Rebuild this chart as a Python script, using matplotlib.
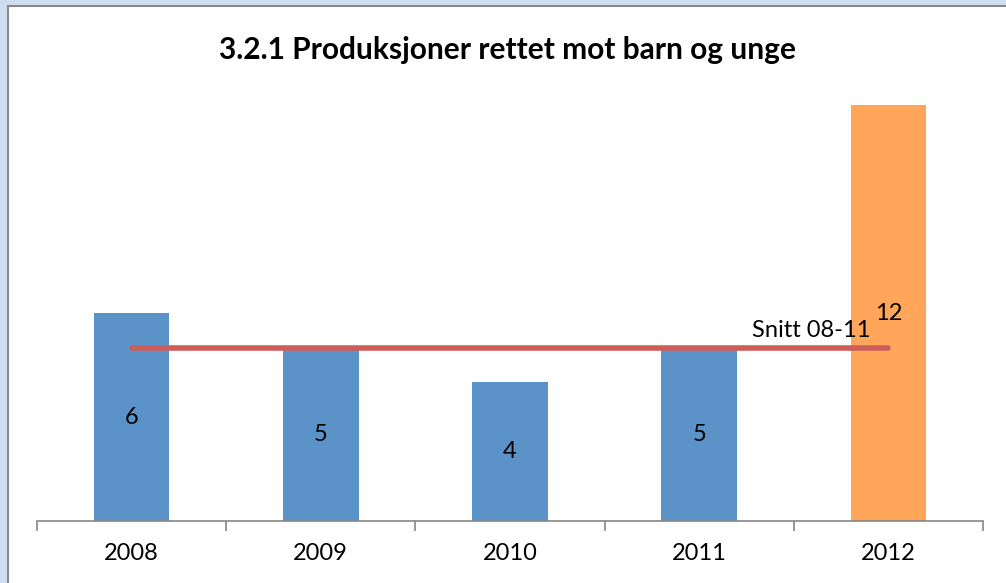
import matplotlib.pyplot as plt
import numpy as np
from matplotlib.patches import Rectangle

years = ["2008", "2009", "2010", "2011", "2012"]
values = [6, 5, 4, 5, 12]
bar_colors = ["#5B93C9", "#5B93C9", "#5B93C9", "#5B93C9", "#FFA65A"]
avg_label = "Snitt 08-11"
avg_value = np.mean(values[:4])

plt.rcParams['font.family'] = ['Lato', 'DejaVu Sans']

fig = plt.figure(figsize=(10.06, 5.83), dpi=100)
fig.patch.set_facecolor("#CEDDF0")
W, H = 1006, 583
fig.patches.append(Rectangle((8 / W, -0.1), 1.2, 1 - 6 / H + 0.1,
                             transform=fig.transFigure, facecolor="white",
                             edgecolor="#8A8A8A", linewidth=1.5, zorder=-5))

ax = fig.add_axes([37 / W, 1 - 521 / H, (983 - 37) / W, (521 - 105) / H])
ax.set_facecolor("none")
x = np.arange(len(years))
ax.bar(x, values, width=0.4, color=bar_colors, zorder=2)
ax.set_xlim(-0.5, len(years) - 0.5)
ax.set_ylim(0, 12)

# average line over 2008-2011
ax.plot([x[0], x[-1]], [avg_value, avg_value], color="#CD5D5A", lw=4,
        solid_capstyle="round", zorder=3)
ax.text(x[-1] - 0.41, avg_value + 0.2, avg_label, ha="center", va="bottom",
        fontsize=17, zorder=4)

# value labels
for i, v in enumerate(values):
    ax.text(x[i], v / 2, str(v), ha="center", va="center", fontsize=17, zorder=4)

for s in ["left", "right", "top"]:
    ax.spines[s].set_visible(False)
ax.spines["bottom"].set_color("#868686")
ax.spines["bottom"].set_linewidth(1.2)
ax.set_yticks([])
ax.set_xticks(x)
ax.set_xticklabels(years, fontsize=17)
ax.tick_params(axis="x", length=0, pad=16)
ax.set_xticks(np.arange(len(years) + 1) - 0.5, minor=True)
ax.tick_params(axis="x", which="minor", length=7, width=1.2, color="#868686")

fig.text(507 / W, 1 - 50 / H, "3.2.1 Produksjoner rettet mot barn og unge",
         ha="center", va="center", fontsize=21.5, fontweight="bold")

fig.savefig("out.png", dpi=100, facecolor=fig.get_facecolor())
